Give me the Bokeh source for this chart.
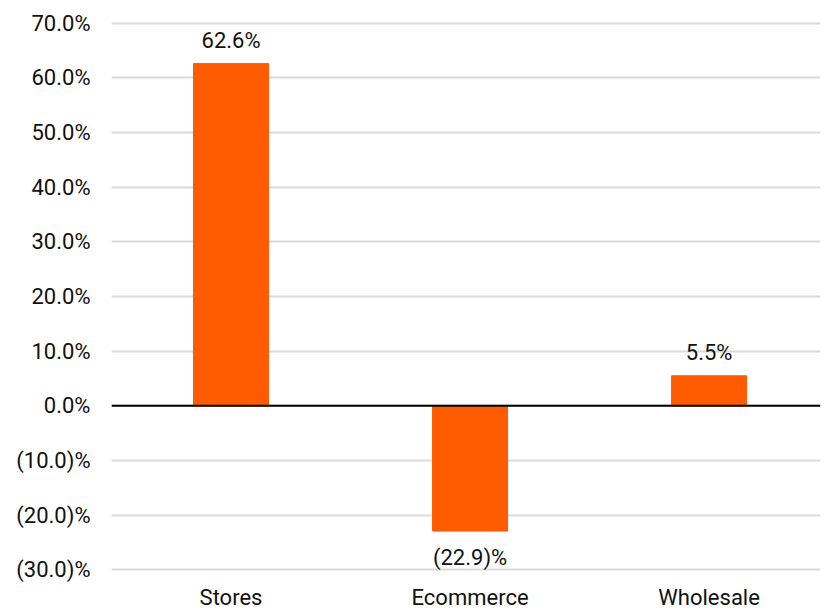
from bokeh.plotting import figure
from bokeh.models import Span, FixedTicker, CustomJSTickFormatter, ColumnDataSource, Range1d
from bokeh.core.properties import value
from bokeh.embed import file_html
from bokeh.resources import INLINE

categories = ["Stores", "Ecommerce", "Wholesale"]
values = [62.6, -22.9, 5.5]
labels = ["62.6%", "(22.9)%", "5.5%"]
y_ticks = [-30, -20, -10, 0, 10, 20, 30, 40, 50, 60, 70]

FONT = "Roboto"
ORANGE = "#FF5B00"

xs = list(range(len(categories)))
pos = [i for i, v in enumerate(values) if v >= 0]
neg = [i for i, v in enumerate(values) if v < 0]

p = figure(width=825, height=612, output_backend="svg", toolbar_location=None,
           x_range=Range1d(-0.5, 2.466), y_range=Range1d(-30.3, 70.3),
           min_border_left=111, min_border_right=5, min_border_top=21, min_border_bottom=39)
p.outline_line_color = None
p.background_fill_color = "white"
p.border_fill_color = "white"

src = ColumnDataSource(dict(x=xs, top=values, cat=categories, lab=labels))
p.vbar(x="x", top="top", bottom=0, width=0.314, source=src, color=ORANGE)

psrc = ColumnDataSource(dict(x=[xs[i] for i in pos], y=[values[i] for i in pos], t=[labels[i] for i in pos]))
nsrc = ColumnDataSource(dict(x=[xs[i] for i in neg], y=[values[i] for i in neg], t=[labels[i] for i in neg]))
p.text(x="x", y="y", text="t", source=psrc, text_align="center", text_baseline="bottom",
       y_offset=-11, text_font=value(FONT), text_font_size="22px", text_color="#111111")
p.text(x="x", y="y", text="t", source=nsrc, text_align="center", text_baseline="top",
       y_offset=14, text_font=value(FONT), text_font_size="22px", text_color="#111111")

p.add_layout(Span(location=0, dimension="width", line_color="black", line_width=2))

p.xgrid.grid_line_color = None
p.ygrid.grid_line_color = "#d9d9d9"
p.ygrid.grid_line_width = 2

p.yaxis.ticker = FixedTicker(ticks=y_ticks)
p.yaxis.formatter = CustomJSTickFormatter(code="""
const a = Math.abs(tick).toFixed(1);
return tick < 0 ? "(" + a + ")%" : a + "%";
""")
p.xaxis.ticker = FixedTicker(ticks=xs)
p.xaxis.major_label_overrides = {i: c for i, c in enumerate(categories)}

for ax in (p.xaxis, p.yaxis):
    ax.axis_line_color = None
    ax.major_tick_line_color = None
    ax.minor_tick_line_color = None
    ax.major_tick_out = 0
    ax.minor_tick_out = 0
    ax.major_tick_in = 0
    ax.minor_tick_in = 0
    ax.major_label_text_font = FONT
    ax.major_label_text_font_size = "22px"
    ax.major_label_text_color = "#111111"
p.yaxis.major_label_standoff = 21
p.xaxis.major_label_standoff = 13

open("out.html", "w").write(file_html(p, INLINE))
